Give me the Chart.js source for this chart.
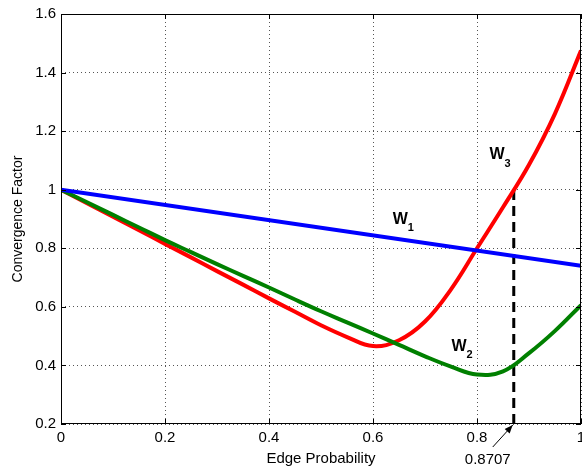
<!DOCTYPE html>
<html>
<head>
<meta charset="utf-8">
<script src="https://cdn.jsdelivr.net/npm/chart.js@4"></script>
<style>
  html, body { margin: 0; padding: 0; background: #fff; overflow: hidden; }
  #wrap { position: relative; width: 600px; height: 468px; }
</style>
</head>
<body>
<div id="wrap"><canvas id="chart"></canvas></div>
<script>
/* ── DATA ───────────────────────────────────────────────────── */
const edgeProb = [0, 0.05, 0.1, 0.15, 0.2, 0.25, 0.3, 0.35, 0.4, 0.45, 0.5,
                  0.55, 0.6, 0.65, 0.7, 0.75, 0.8, 0.85, 0.9, 0.95, 1.0];
const w2 = [1.0, 0.957, 0.914, 0.871, 0.828, 0.787, 0.746, 0.706, 0.666, 0.625, 0.585,
            0.547, 0.509, 0.47, 0.431, 0.396, 0.369, 0.38, 0.442, 0.518, 0.606];
const w3 = [1.0, 0.954, 0.908, 0.862, 0.815, 0.769, 0.722, 0.676, 0.629, 0.583, 0.537,
            0.497, 0.466, 0.486, 0.55, 0.66, 0.8, 0.94, 1.085, 1.26, 1.475];
const w1X = [0, 1];
const w1 = [1.0, 0.74];

const markX = 0.8707;          // dashed marker
const markY = [0.2, 1.0];

const xTicks = [0, 0.2, 0.4, 0.6, 0.8, 1];
const yTicks = [0.2, 0.4, 0.6, 0.8, 1, 1.2, 1.4, 1.6];

const FONT = '"Liberation Sans", Arial, Helvetica, sans-serif';

/* ── HELPERS ────────────────────────────────────────────────── */
function toPoints(xs, ys) {
  return xs.map((x, i) => ({ x, y: ys[i] }));
}
function fmt(v) {
  return String(+v.toFixed(4));
}

/* ── PLUGIN: box, inward ticks, curve labels, arrow ─────────── */
const labelAnchors = [
  { sub: '1', x: 0.638, y: 0.899 },
  { sub: '2', x: 0.751, y: 0.466 },
  { sub: '3', x: 0.824, y: 1.120 },
];

const matlabDecor = {
  id: 'matlabDecor',
  afterDatasetsDraw(chart) {
    const { ctx, chartArea: a, scales: { x, y } } = chart;
    ctx.save();

    // box
    ctx.strokeStyle = '#000';
    ctx.lineWidth = 1;
    ctx.strokeRect(a.left + 0.5, a.top + 0.5, a.right - a.left - 1, a.bottom - a.top - 1);

    // inward ticks
    const tl = 5;
    ctx.beginPath();
    xTicks.forEach(v => {
      const px = Math.round(x.getPixelForValue(v)) + 0.5;
      ctx.moveTo(px, a.bottom); ctx.lineTo(px, a.bottom - tl);
      ctx.moveTo(px, a.top);    ctx.lineTo(px, a.top + tl);
    });
    yTicks.forEach(v => {
      const py = Math.round(y.getPixelForValue(v)) + 0.5;
      ctx.moveTo(a.left, py);  ctx.lineTo(a.left + tl, py);
      ctx.moveTo(a.right, py); ctx.lineTo(a.right - tl, py);
    });
    ctx.stroke();

    // W labels
    ctx.fillStyle = '#000';
    ctx.textBaseline = 'middle';
    ctx.textAlign = 'left';
    labelAnchors.forEach(l => {
      const px = x.getPixelForValue(l.x);
      const py = y.getPixelForValue(l.y);
      ctx.font = 'bold 16px ' + FONT;
      ctx.fillText('W', px, py);
      const w = ctx.measureText('W').width;
      ctx.font = 'bold 11px ' + FONT;
      ctx.fillText(l.sub, px + w, py + 9);
    });

    // arrow to 0.8707
    const ax = x.getPixelForValue(markX);
    const ay = y.getPixelForValue(markY[0]);
    const sx = ax - 21, sy = ay + 23;
    const ex = ax - 1, ey = ay + 1;
    ctx.beginPath();
    ctx.moveTo(sx, sy);
    ctx.lineTo(ex, ey);
    ctx.stroke();
    const ang = Math.atan2(ey - sy, ex - sx);
    const hl = 9, hw = 0.38;
    ctx.beginPath();
    ctx.moveTo(ex, ey);
    ctx.lineTo(ex - hl * Math.cos(ang - hw), ey - hl * Math.sin(ang - hw));
    ctx.lineTo(ex - hl * Math.cos(ang + hw), ey - hl * Math.sin(ang + hw));
    ctx.closePath();
    ctx.fill();

    ctx.font = '15px ' + FONT;
    ctx.textAlign = 'center';
    ctx.fillText(fmt(markX), ax - 26, ay + 36);

    ctx.restore();
  },
};

/* ── CHART ──────────────────────────────────────────────────── */
const lineBase = {
  borderWidth: 4,
  pointRadius: 0,
  fill: false,
  tension: 0.4,
};

new Chart(document.getElementById('chart'), {
  type: 'line',
  data: {
    datasets: [
      { ...lineBase, label: 'W1', data: toPoints(w1X, w1), borderColor: '#0000ff', tension: 0 },
      { ...lineBase, label: 'W2', data: toPoints(edgeProb, w2), borderColor: '#008000' },
      { ...lineBase, label: 'W3', data: toPoints(edgeProb, w3), borderColor: '#ff0000' },
      {
        label: 'mark',
        data: toPoints([markX, markX], markY),
        borderColor: '#000',
        borderWidth: 3,
        borderDash: [10, 6],
        pointRadius: 0,
        fill: false,
      },
    ],
  },
  options: {
    responsive: true,
    maintainAspectRatio: false,
    animation: false,
    layout: { padding: { left: 0, top: 13, right: 19, bottom: 0 } },
    plugins: {
      legend: { display: false },
      tooltip: { enabled: false },
    },
    scales: {
      x: {
        type: 'linear',
        min: 0,
        max: 1,
        afterBuildTicks: s => { s.ticks = xTicks.map(v => ({ value: v })); },
        afterFit: s => { s.height = 44; },
        grid: { color: '#555', lineWidth: 1, drawTicks: false },
        border: { display: false, dash: [1, 3] },
        ticks: {
          color: '#000',
          padding: 5,
          maxRotation: 0,
          font: { family: FONT, size: 15 },
          callback: v => fmt(v),
        },
        title: {
          display: true,
          text: 'Edge Probability',
          color: '#000',
          font: { family: FONT, size: 15, lineHeight: 1.2 },
          padding: { top: 0, bottom: 0 },
        },
      },
      y: {
        type: 'linear',
        min: 0.2,
        max: 1.6,
        afterBuildTicks: s => { s.ticks = yTicks.map(v => ({ value: v })); },
        afterFit: s => { s.width = 61; },
        grid: { color: '#555', lineWidth: 1, drawTicks: false },
        border: { display: false, dash: [1, 3] },
        ticks: {
          color: '#000',
          padding: 5,
          font: { family: FONT, size: 15 },
          callback: v => fmt(v),
        },
        title: {
          display: true,
          text: 'Convergence Factor',
          color: '#000',
          font: { family: FONT, size: 14, lineHeight: 1.2 },
          padding: { top: 10, bottom: 0 },
        },
      },
    },
  },
  plugins: [matlabDecor],
});
</script>
</body>
</html>
